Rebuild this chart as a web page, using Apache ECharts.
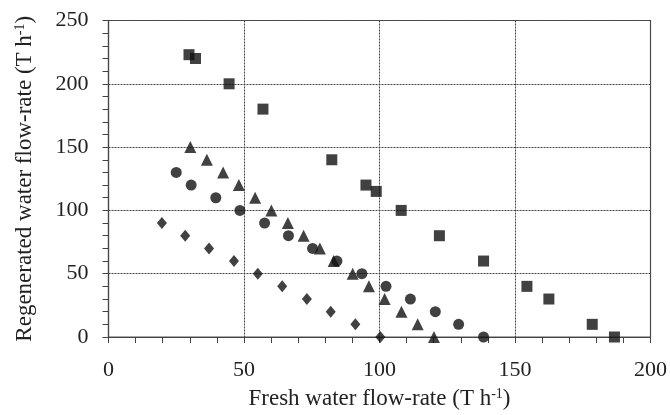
<!DOCTYPE html>
<html>
<head>
<meta charset="utf-8">
<script src="https://cdn.jsdelivr.net/npm/echarts@6/dist/echarts.min.js"></script>
<style>html,body{margin:0;padding:0;background:#fff}#c{width:670px;height:415px}</style>
</head>
<body>
<div id="c"></div>
<script>
const squareX = [29.7, 32.1, 44.5, 57.0, 82.4, 95.0, 98.8, 108.0, 122.1, 138.4, 154.4, 162.5, 178.5, 186.7];
const squareY = [223, 220, 200, 180, 140, 120, 115, 100, 80, 60, 40, 30, 10, 0];
const triangleX = [30.2, 36.3, 42.3, 48.1, 54.1, 60.1, 66.2, 72.0, 78.0, 83.1, 90.1, 96.1, 101.9, 108.1, 114.1, 120.1];
const triangleY = [150, 140, 130, 120, 110, 100, 90, 80, 70, 60, 50, 40, 30, 20, 10, 0];
const circleX = [25.0, 30.5, 39.6, 48.5, 57.6, 66.4, 75.3, 84.3, 93.5, 102.4, 111.4, 120.6, 129.2, 138.4];
const circleY = [130, 120, 110, 100, 90, 80, 70, 60, 50, 40, 30, 20, 10, 0];
const diamondX = [19.7, 28.3, 37.1, 46.3, 55.1, 64.1, 73.2, 82.0, 91.1, 100.3];
const diamondY = [90, 80, 70, 60, 50, 40, 30, 20, 10, 0];
const xTitle = ['Fresh water flow-rate (T h', '-1', ')'];
const yTitle = ['Regenerated water flow-rate (T h', '-1', ')'];

function pairs(xs, ys) { return xs.map((x, i) => [x, ys[i]]); }
const font = 'Liberation Serif';
const rich = {
  a: { fontFamily: font, fontSize: 23, color: '#222' },
  s: { fontFamily: font, fontSize: 14, color: '#222', verticalAlign: 'top', padding: [0, 0, 9, 0] }
};
function title(t) { return '{a|' + t[0] + '}{s|' + t[1] + '}{a|' + t[2] + '}'; }

const axisCommon = {
  min: 0,
  interval: 50,
  axisLine: { show: true, lineStyle: { color: '#444', width: 1.2 } },
  axisTick: { show: true, inside: false, length: 6, lineStyle: { color: '#444' } },
  minorTick: { show: true, splitNumber: 5, length: 6, lineStyle: { color: '#444' } },
  splitLine: { show: true, lineStyle: { color: '#444', type: [2, 1], width: 1 } },
  axisLabel: { fontFamily: font, fontSize: 22, color: '#222' },
  nameLocation: 'middle',
  nameTextStyle: { rich: rich }
};

const chart = echarts.init(document.getElementById('c'), null, { renderer: 'canvas' });
chart.setOption({
  animation: false,
  backgroundColor: '#fff',
  grid: { left: 108.5, right: 17, top: 20.5, bottom: 75, show: true, borderColor: '#555', borderWidth: 1.2 },
  xAxis: Object.assign({}, axisCommon, {
    type: 'value', max: 200,
    axisLabel: Object.assign({}, axisCommon.axisLabel, { margin: 22 }),
    name: title(xTitle), nameGap: 50
  }),
  yAxis: Object.assign({}, axisCommon, {
    type: 'value', max: 250,
    axisLabel: Object.assign({}, axisCommon.axisLabel, { margin: 20 }),
    name: title(yTitle), nameGap: 72
  }),
  series: [
    { type: 'scatter', symbol: 'rect', symbolSize: 11, itemStyle: { color: '#111' }, data: pairs(squareX, squareY) },
    { type: 'scatter', symbol: 'triangle', symbolSize: 12, itemStyle: { color: '#111' }, data: pairs(triangleX, triangleY) },
    { type: 'scatter', symbol: 'circle', symbolSize: 11, itemStyle: { color: '#111' }, data: pairs(circleX, circleY) },
    { type: 'scatter', symbol: 'diamond', symbolSize: [10, 12], itemStyle: { color: '#111' }, data: pairs(diamondX, diamondY) }
  ]
});
</script>
</body>
</html>
